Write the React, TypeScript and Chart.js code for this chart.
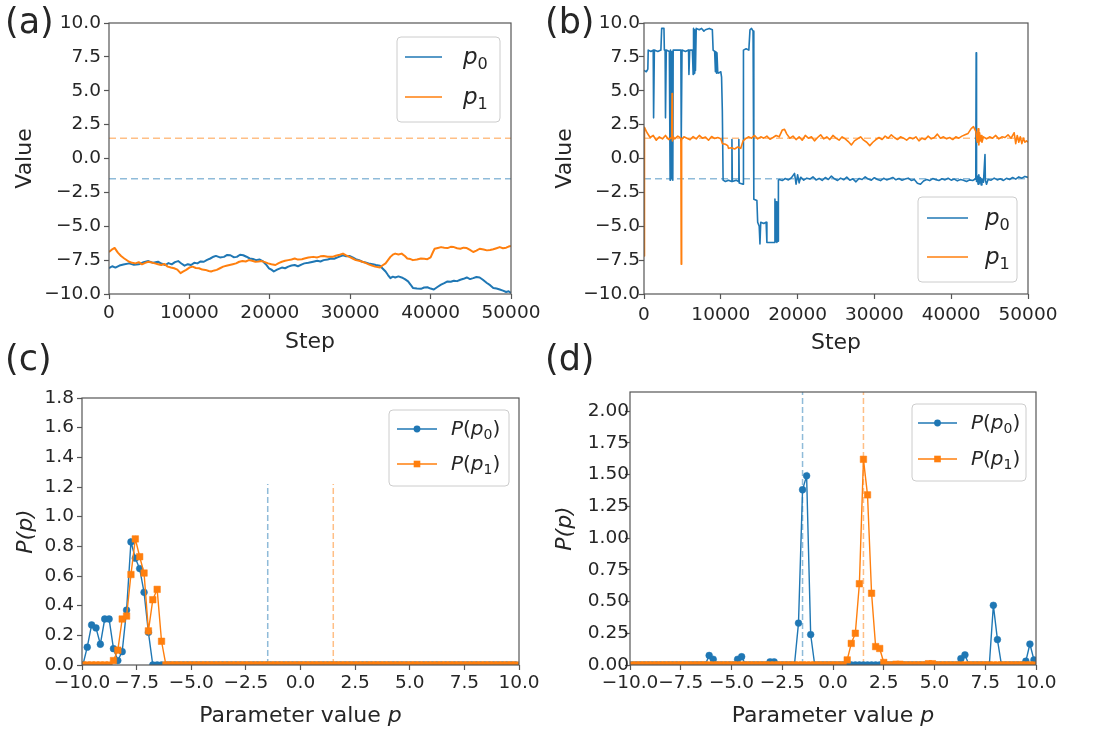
import React, { useEffect, useRef } from 'react';
import { Chart, registerables } from 'chart.js';

Chart.register(...registerables);

const FONT = '"DejaVu Sans", "Liberation Sans", Arial, sans-serif';
const BLUE = '#1f77b4';
const ORANGE = '#ff7f0e';
const BLUE_FAINT = 'rgba(31,119,180,0.5)';
const ORANGE_FAINT = 'rgba(255,127,14,0.5)';
const TEXT = '#262626';
const SPINE = '#555555';

// ---------- shared values ----------
const TRUE_P0 = -1.5;
const TRUE_P1 = 1.5;
const STEP_MIN = 0;
const STEP_MAX = 50000;
const STEP_TICKS = [0, 10000, 20000, 30000, 40000, 50000];
const VALUE_TICKS = [-10, -7.5, -5, -2.5, 0, 2.5, 5, 7.5, 10];
const PARAM_TICKS = [-10, -7.5, -5, -2.5, 0, 2.5, 5, 7.5, 10];
const C_DENSITY_TICKS = [0, 0.2, 0.4, 0.6, 0.8, 1.0, 1.2, 1.4, 1.6, 1.8];
const D_DENSITY_TICKS = [0, 0.25, 0.5, 0.75, 1.0, 1.25, 1.5, 1.75, 2.0];
const C_DENSITY_MAX = 1.8;
const D_DENSITY_MAX = 2.15;
const C_TRUE_LINE_TOP = 1.22;
const D_TRUE_LINE_TOP = 2.15;

// ---------- panel (a): trace, [step, value] ----------
const A_P0: [number, number][] = [
  [0, -8.1], [400, -7.95], [800, -8.05], [1300, -7.9], [1800, -7.82], [2500, -7.74], [3100, -7.85], [3700, -7.81],
  [4300, -7.65], [4900, -7.57], [5500, -7.7], [6100, -7.62], [6500, -7.75], [7000, -7.86], [7400, -7.72], [7800, -7.81],
  [8200, -7.65], [8600, -7.57], [9000, -7.75], [9400, -7.91], [9800, -7.8], [10200, -7.86], [10600, -7.7], [11000, -7.74],
  [11400, -7.6], [11800, -7.62], [12200, -7.48], [12600, -7.38], [13000, -7.25], [13300, -7.19], [13800, -7.3], [14300, -7.26],
  [14700, -7.12], [15100, -7.14], [15500, -7.28], [15900, -7.26], [16300, -7.1], [16700, -7.14], [17100, -7.25], [17500, -7.38],
  [17900, -7.42], [18300, -7.5], [18700, -7.45], [19100, -7.57], [19500, -7.8], [19900, -8.1], [20200, -8.2], [20500, -8.34],
  [20900, -8.2], [21500, -8.05], [21900, -8.1], [22300, -7.98], [22700, -7.9], [23100, -7.86], [23500, -7.95], [24000, -7.81],
  [24300, -7.74], [24800, -7.7], [25400, -7.62], [25900, -7.55], [26300, -7.6], [26700, -7.5], [27200, -7.45], [27600, -7.38],
  [28000, -7.4], [28500, -7.28], [29100, -7.14], [29500, -7.22], [29900, -7.19], [30300, -7.3], [30700, -7.43], [31100, -7.5],
  [31500, -7.62], [31900, -7.68], [32300, -7.74], [32800, -7.8], [33200, -7.86], [33700, -7.91], [34000, -8.1], [34400, -8.34],
  [34700, -8.6], [35000, -8.83], [35300, -8.72], [35600, -8.78], [36000, -8.7], [36400, -8.78], [36800, -8.9], [37200, -9.07],
  [37500, -9.3], [37800, -9.55], [38300, -9.6], [38800, -9.62], [39200, -9.52], [39600, -9.5], [40000, -9.6], [40400, -9.67],
  [40800, -9.5], [41300, -9.31], [41700, -9.2], [42100, -9.07], [42500, -9.1], [42900, -9.02], [43300, -9.05], [43700, -8.95],
  [44100, -8.88], [44500, -8.78], [44900, -8.9], [45300, -8.83], [45700, -8.75], [46100, -8.78], [46500, -8.95], [47000, -9.19],
  [47400, -9.35], [47800, -9.55], [48200, -9.6], [48600, -9.67], [49000, -9.75], [49400, -9.85], [49700, -9.8], [50000, -9.92],
];

const A_P1: [number, number][] = [
  [0, -6.9], [300, -6.75], [700, -6.6], [1100, -6.95], [1500, -7.2], [1900, -7.38], [2500, -7.62], [2900, -7.7],
  [3300, -7.74], [3700, -7.65], [4100, -7.81], [4500, -7.7], [4900, -7.62], [5300, -7.68], [5700, -7.74], [6100, -7.8],
  [6500, -7.86], [6900, -7.78], [7300, -7.98], [7700, -8.05], [8100, -8.1], [8500, -8.2], [8900, -8.46], [9200, -8.35],
  [9600, -8.22], [10000, -8.05], [10400, -7.98], [10800, -8.08], [11200, -8.1], [11600, -8.2], [12000, -8.22], [12400, -8.3],
  [12700, -8.34], [13100, -8.26], [13400, -8.22], [13800, -8.1], [14200, -7.98], [14600, -7.92], [15000, -7.86], [15400, -7.8],
  [15800, -7.74], [16200, -7.62], [16600, -7.57], [17000, -7.6], [17400, -7.5], [17800, -7.55], [18200, -7.62], [18600, -7.6],
  [19000, -7.57], [19400, -7.65], [19800, -7.74], [20200, -7.8], [20700, -7.86], [21100, -7.72], [21500, -7.62], [21900, -7.55],
  [22300, -7.5], [22700, -7.45], [23100, -7.38], [23500, -7.46], [24000, -7.43], [24300, -7.38], [24800, -7.3], [25400, -7.26],
  [25900, -7.3], [26300, -7.22], [26700, -7.19], [27200, -7.25], [27800, -7.26], [28200, -7.18], [28700, -7.1], [29100, -7.02],
  [29500, -7.15], [29900, -7.26], [30300, -7.38], [30700, -7.5], [31100, -7.55], [31500, -7.62], [31900, -7.7], [32300, -7.81],
  [32700, -7.9], [33100, -7.98], [33700, -8.05], [34000, -7.9], [34400, -7.74], [34700, -7.5], [35000, -7.26], [35300, -7.1],
  [35600, -7.02], [36000, -7.08], [36400, -7.02], [36800, -7.2], [37100, -7.38], [37500, -7.42], [37800, -7.5], [38300, -7.45],
  [38800, -7.38], [39200, -7.4], [39600, -7.43], [40000, -7.3], [40300, -6.9], [40500, -6.66], [40900, -6.6], [41300, -6.54],
  [41700, -6.58], [42100, -6.61], [42500, -6.52], [42900, -6.54], [43300, -6.62], [43700, -6.66], [44100, -6.58], [44500, -6.61],
  [44900, -6.75], [45300, -6.9], [45700, -6.8], [46100, -6.66], [46600, -6.72], [47000, -6.78], [47400, -6.75], [47800, -6.7],
  [48200, -6.62], [48600, -6.54], [49000, -6.62], [49400, -6.58], [49700, -6.5], [50000, -6.45],
];

// ---------- panel (b): trace, [step, value] ----------
const B_P0: [number, number][] = [
  [0, 6.5], [300, 6.4], [500, 6.6], [550, 8.0], [900, 7.9], [1200, 8.0], [1250, 3.0], [1350, 8.0], [1800, 7.9], [2200, 8.0],
  [2300, 9.6], [2600, 9.6], [2650, 8.0], [2750, 8.0], [2800, 3.0], [2900, 8.0], [3300, 7.9], [3400, -1.6], [3450, 8.0],
  [3550, -1.5], [3650, 7.9], [3750, -1.6], [3800, 8.0], [4300, 8.0], [4800, 8.0], [4850, 1.3], [4950, 8.0], [5400, 7.9],
  [5800, 8.0], [5850, 6.2], [5950, 8.0], [6300, 8.0], [6400, 6.2], [6450, 9.6], [6550, 6.3], [6600, 9.5], [6700, 6.5],
  [6800, 9.6], [7200, 9.5], [7500, 9.6], [7800, 9.4], [8000, 9.5], [8500, 9.6], [8900, 9.5], [9000, 8.0], [9200, 7.9],
  [9300, 6.4], [9350, 7.9], [9450, 6.3], [9500, 7.8], [9600, 6.4], [9700, 6.3], [10000, 6.4], [10100, 6.0], [10200, 3.5],
  [10300, -1.6], [10600, -1.7], [11000, -1.6], [11400, -1.7], [11450, 1.4], [11500, -1.7], [12000, -1.6], [12300, -1.7],
  [12350, 1.4], [12400, -1.8], [12900, -1.9], [12950, 8.0], [13300, 8.1], [13650, 8.0], [13800, 9.5], [14000, 9.6],
  [14200, 9.4], [14300, -3.0], [14700, -3.1], [14800, -4.7], [15000, -5.0], [15100, -6.3], [15200, -4.7], [15600, -4.8],
  [15900, -4.7], [16000, -6.2], [16500, -6.2], [17000, -6.2], [17050, -3.0], [17150, -6.1], [17200, -3.2], [17300, -6.2],
  [17400, -3.5], [17450, -6.1], [17500, -1.6],
  [17600, -1.55], [18000, -1.62], [18400, -1.48], [18800, -1.58], [19200, -1.42], [19600, -1.1], [19800, -1.9], [20000, -1.2],
  [20200, -1.8], [20400, -1.38], [20800, -1.6], [21200, -1.45], [21600, -1.52], [22000, -1.35], [22400, -1.58], [22800, -1.47],
  [23200, -1.62], [23600, -1.4], [24000, -1.55], [24400, -1.3], [24800, -1.5], [25200, -1.62], [25600, -1.45], [26000, -1.57],
  [26400, -1.38], [26800, -1.6], [27200, -1.5], [27600, -1.72], [28000, -1.48], [28400, -1.55], [28800, -1.36], [29200, -1.52],
  [29600, -1.6], [30000, -1.42], [30400, -1.55], [30800, -1.63], [31200, -1.46], [31600, -1.58], [32000, -1.5], [32400, -1.4],
  [32800, -1.57], [33200, -1.48], [33600, -1.6], [34000, -1.52], [34400, -1.45], [34800, -1.62], [35200, -1.55], [35600, -1.82],
  [36000, -1.9], [36400, -1.66], [36800, -1.55], [37200, -1.63], [37600, -1.48], [38000, -1.56], [38400, -1.62], [38800, -1.5],
  [39200, -1.58], [39600, -1.46], [40000, -1.6], [40400, -1.52], [40800, -1.65], [41200, -1.55], [41600, -1.6], [42000, -1.7],
  [42400, -1.58], [42800, -1.62], [43200, -1.5], [43250, 7.8], [43300, -1.7], [43400, -1.3], [43500, -1.9], [43600, -1.2],
  [43700, -1.8], [43800, -1.4], [43900, -1.95], [44000, -1.5], [44200, -1.75], [44400, 0.3], [44450, -1.6], [44600, -1.9],
  [44800, -1.55], [45200, -1.6], [45600, -1.45], [46000, -1.58], [46400, -1.5], [46800, -1.62], [47200, -1.46], [47600, -1.55],
  [48000, -1.4], [48400, -1.52], [48800, -1.36], [49200, -1.45], [49600, -1.32], [50000, -1.4],
];

const B_P1: [number, number][] = [
  [0, -7.2], [60, 2.3], [400, 1.9], [800, 1.55], [1200, 1.7], [1600, 1.35], [2000, 1.6], [2400, 1.45], [2800, 1.7],
  [3200, 1.4], [3600, 1.55], [3650, 4.8], [3700, 1.3], [3800, 1.6], [4000, 1.45], [4400, 1.65], [4800, 1.5], [4850, -7.8],
  [4900, 1.4], [5200, 1.6], [5600, 1.5], [6000, 1.38], [6400, 1.62], [6800, 1.45], [7200, 1.7], [7600, 1.5], [8000, 1.58],
  [8400, 1.35], [8800, 1.62], [9200, 1.48], [9600, 1.55], [10000, 1.45], [10200, 1.1], [10600, 1.05], [10900, 0.95],
  [11000, 0.75], [11400, 0.8], [11800, 0.7], [12200, 0.85], [12600, 0.75], [12900, 1.3], [13200, 1.45], [13600, 1.6],
  [14000, 1.5], [14400, 1.7], [14800, 1.45], [15200, 1.6], [15600, 1.5], [16000, 1.65], [16400, 1.42], [16800, 1.55],
  [17200, 1.7], [17600, 1.6], [18000, 2.1], [18300, 2.15], [18600, 1.8], [19000, 1.5], [19400, 1.65], [19800, 1.4],
  [20200, 1.6], [20600, 1.35], [21000, 1.7], [21400, 1.5], [21800, 1.6], [22200, 1.3], [22600, 1.55], [23000, 1.75],
  [23400, 1.45], [23800, 1.6], [24200, 1.4], [24600, 1.7], [25000, 1.5], [25400, 1.35], [25800, 1.6], [26200, 1.45],
  [26600, 1.25], [27000, 1.0], [27400, 1.3], [27800, 1.45], [28200, 1.6], [28600, 1.35], [29000, 1.2], [29400, 0.95],
  [29800, 1.2], [30200, 1.4], [30600, 1.55], [31000, 1.4], [31400, 1.65], [31800, 1.5], [32200, 1.75], [32600, 1.55],
  [33000, 1.4], [33400, 1.6], [33800, 1.5], [34200, 1.35], [34600, 1.55], [35000, 1.45], [35400, 1.6], [35800, 1.3],
  [36200, 1.5], [36600, 1.4], [37000, 1.65], [37400, 1.45], [37800, 1.55], [38200, 1.8], [38600, 1.5], [39000, 1.6],
  [39400, 1.45], [39800, 1.55], [40200, 1.4], [40600, 1.6], [41000, 1.5], [41400, 1.65], [41800, 1.75], [42200, 1.85],
  [42600, 2.2], [42900, 2.35], [43200, 2.0], [43400, 1.2], [43500, 2.2], [43600, 1.0], [43700, 1.9], [43800, 1.3],
  [43900, 1.7], [44000, 1.2], [44200, 1.6], [44600, 1.45], [45000, 1.6], [45400, 1.5], [45800, 1.7], [46200, 1.45],
  [46600, 1.6], [47000, 1.55], [47400, 1.75], [47800, 1.5], [48200, 1.9], [48400, 1.1], [48600, 1.7], [48800, 1.2],
  [49000, 1.6], [49200, 1.1], [49400, 1.5], [49600, 1.2], [49800, 1.3], [50000, 1.2],
];

// ---------- panels (c), (d): histogram densities, [bin centre, density] (all other bins are 0) ----------
const BIN_COUNT = 100;
const BIN_WIDTH = 0.2;
const C_FIRST_BIN = -9.96;
const D_FIRST_BIN = -9.9;

const C_P0: [number, number][] = [
  [-9.76, 0.12], [-9.56, 0.27], [-9.36, 0.25], [-9.16, 0.14], [-8.96, 0.31], [-8.76, 0.31], [-8.56, 0.11], [-8.36, 0.03],
  [-8.16, 0.09], [-7.96, 0.37], [-7.76, 0.83], [-7.56, 0.72], [-7.36, 0.65], [-7.16, 0.49], [-6.96, 0.22],
];
const C_P1: [number, number][] = [
  [-8.56, 0.03], [-8.36, 0.1], [-8.16, 0.31], [-7.96, 0.33], [-7.76, 0.61], [-7.56, 0.85], [-7.36, 0.73], [-7.16, 0.62],
  [-6.96, 0.23], [-6.76, 0.44], [-6.56, 0.51], [-6.36, 0.16],
];
const D_P0: [number, number][] = [
  [-6.1, 0.075], [-5.9, 0.045], [-4.7, 0.045], [-4.5, 0.065], [-3.1, 0.025], [-2.9, 0.025], [-1.7, 0.33], [-1.5, 1.38],
  [-1.3, 1.49], [-1.1, 0.24], [6.3, 0.05], [6.5, 0.08], [7.9, 0.47], [8.1, 0.2], [9.5, 0.03], [9.7, 0.165], [9.9, 0.04],
];
const D_P1: [number, number][] = [
  [0.7, 0.04], [0.9, 0.17], [1.1, 0.25], [1.3, 0.64], [1.5, 1.62], [1.7, 1.34], [1.9, 0.565], [2.1, 0.145], [2.3, 0.13],
  [2.5, 0.02], [3.1, 0.006], [3.3, 0.006], [4.7, 0.01], [4.9, 0.01],
];

// ---------- helpers ----------
type Run = { t: string; it?: boolean; sub?: boolean };
type LegendItem = { color: string; marker?: 'circle' | 'rect'; runs: Run[] };
type LegendSpec = {
  box: [number, number, number, number];
  lineX: [number, number];
  textX: number;
  rows: number[];
  size: number;
  items: LegendItem[];
};

const P0_RUNS: Run[] = [{ t: 'p', it: true }, { t: '0', sub: true }];
const P1_RUNS: Run[] = [{ t: 'p', it: true }, { t: '1', sub: true }];
const PP0_RUNS: Run[] = [{ t: 'P', it: true }, { t: '(' }, { t: 'p', it: true }, { t: '0', sub: true }, { t: ')' }];
const PP1_RUNS: Run[] = [{ t: 'P', it: true }, { t: '(' }, { t: 'p', it: true }, { t: '1', sub: true }, { t: ')' }];
const PARAM_TITLE_RUNS: Run[] = [{ t: 'Parameter value ' }, { t: 'p', it: true }];

const fmtFixed = (d: number) => (v: any) => Number(v).toFixed(d).replace('-', '\u2212');
const fmtInt = (v: any) => String(Math.round(Number(v)));

function toPts(arr: [number, number][]) {
  return arr.map(([x, y]) => ({ x, y }));
}

function histPoints(first: number, nonzero: [number, number][]) {
  const pts: { x: number; y: number }[] = [];
  for (let k = 0; k < BIN_COUNT; k++) {
    const x = Math.round((first + k * BIN_WIDTH) * 100) / 100;
    const hit = nonzero.find(([nx]) => Math.abs(nx - x) < 0.05);
    pts.push({ x, y: hit ? hit[1] : 0 });
  }
  return pts;
}

function drawRuns(ctx: CanvasRenderingContext2D, runs: Run[], x: number, baseline: number, size: number, align: 'left' | 'center') {
  const parts = runs.map((r) => {
    const fs = r.sub ? size * 0.7 : size;
    const font = `${r.it ? 'italic ' : ''}${fs}px ${FONT}`;
    ctx.font = font;
    return { r, font, w: ctx.measureText(r.t).width };
  });
  const total = parts.reduce((s, p) => s + p.w, 0);
  let cx = align === 'center' ? x - total / 2 : x;
  ctx.textBaseline = 'alphabetic';
  ctx.textAlign = 'left';
  for (const p of parts) {
    ctx.font = p.font;
    ctx.fillText(p.r.t, cx, p.r.sub ? baseline + size * 0.2 : baseline);
    cx += p.w;
  }
}

function drawLegend(ctx: CanvasRenderingContext2D, spec: LegendSpec) {
  const [x0, y0, x1, y1] = spec.box;
  const r = 4;
  ctx.save();
  ctx.beginPath();
  ctx.moveTo(x0 + r, y0);
  ctx.lineTo(x1 - r, y0);
  ctx.quadraticCurveTo(x1, y0, x1, y0 + r);
  ctx.lineTo(x1, y1 - r);
  ctx.quadraticCurveTo(x1, y1, x1 - r, y1);
  ctx.lineTo(x0 + r, y1);
  ctx.quadraticCurveTo(x0, y1, x0, y1 - r);
  ctx.lineTo(x0, y0 + r);
  ctx.quadraticCurveTo(x0, y0, x0 + r, y0);
  ctx.closePath();
  ctx.fillStyle = 'rgba(255,255,255,0.8)';
  ctx.fill();
  ctx.strokeStyle = '#cccccc';
  ctx.lineWidth = 1;
  ctx.stroke();
  spec.items.forEach((it, i) => {
    const y = spec.rows[i];
    ctx.strokeStyle = it.color;
    ctx.lineWidth = 1.7;
    ctx.setLineDash([]);
    ctx.beginPath();
    ctx.moveTo(spec.lineX[0], y);
    ctx.lineTo(spec.lineX[1], y);
    ctx.stroke();
    const mx = (spec.lineX[0] + spec.lineX[1]) / 2;
    ctx.fillStyle = it.color;
    if (it.marker === 'circle') {
      ctx.beginPath();
      ctx.arc(mx, y, 3.4, 0, Math.PI * 2);
      ctx.fill();
    } else if (it.marker === 'rect') {
      ctx.fillRect(mx - 3.3, y - 3.3, 6.6, 6.6);
    }
    ctx.fillStyle = TEXT;
    drawRuns(ctx, it.runs, spec.textX, y + spec.size * 0.3, spec.size, 'left');
  });
  ctx.restore();
}

function overlayPlugin(legend: LegendSpec, xTitle?: { runs: Run[]; baseline: number; size: number }) {
  return {
    id: 'overlay',
    afterDatasetsDraw(chart: any) {
      const { ctx, chartArea: a } = chart;
      ctx.save();
      ctx.strokeStyle = SPINE;
      ctx.lineWidth = 1.2;
      ctx.setLineDash([]);
      ctx.strokeRect(a.left, a.top, a.right - a.left, a.bottom - a.top);
      ctx.restore();
    },
    afterDraw(chart: any) {
      const { ctx, chartArea: a } = chart;
      drawLegend(ctx, legend);
      if (xTitle) {
        ctx.save();
        ctx.fillStyle = TEXT;
        drawRuns(ctx, xTitle.runs, (a.left + a.right) / 2, xTitle.baseline, xTitle.size, 'center');
        ctx.restore();
      }
    },
  };
}

const TICK_FONT = { family: FONT, size: 18.5 };
const TITLE_FONT = { family: FONT, size: 22 };

function xAxis(min: number, max: number, ticks: number[], fmt: (v: any) => string, height: number, pad: number, title?: string) {
  return {
    type: 'linear',
    position: 'bottom',
    min,
    max,
    afterBuildTicks: (s: any) => {
      s.ticks = ticks.map((value) => ({ value }));
    },
    afterFit: (s: any) => {
      s.height = height;
    },
    ticks: { autoSkip: false, maxRotation: 0, minRotation: 0, padding: pad, color: TEXT, font: TICK_FONT, callback: fmt },
    grid: { display: true, drawOnChartArea: false, drawTicks: true, tickLength: 5, tickColor: SPINE, tickWidth: 1.2 },
    border: { display: false },
    title: title
      ? { display: true, text: title, color: TEXT, font: TITLE_FONT, padding: 0 }
      : { display: false },
  };
}

function yAxis(min: number, max: number, ticks: number[], fmt: (v: any) => string, width: number, pad: number, title: string, italic: boolean) {
  return {
    type: 'linear',
    position: 'left',
    min,
    max,
    afterBuildTicks: (s: any) => {
      s.ticks = ticks.map((value) => ({ value }));
    },
    afterFit: (s: any) => {
      s.width = width;
    },
    ticks: { autoSkip: false, padding: pad, color: TEXT, font: TICK_FONT, callback: fmt },
    grid: { display: true, drawOnChartArea: false, drawTicks: true, tickLength: 5, tickColor: SPINE, tickWidth: 1.2 },
    border: { display: false },
    title: {
      display: true,
      text: title,
      color: TEXT,
      font: italic ? { ...TITLE_FONT, style: 'italic' } : TITLE_FONT,
      padding: 0,
    },
  };
}

function traceDs(points: [number, number][], color: string, width: number, order: number) {
  return {
    data: toPts(points),
    borderColor: color,
    backgroundColor: color,
    borderWidth: width,
    pointRadius: 0,
    pointHoverRadius: 0,
    tension: 0,
    fill: false,
    clip: 0,
    order,
    borderJoinStyle: 'round',
  };
}

function dashedDs(points: { x: number; y: number }[], color: string, dash: number[], order: number) {
  return {
    data: points,
    borderColor: color,
    borderWidth: 1.5,
    borderDash: dash,
    pointRadius: 0,
    pointHoverRadius: 0,
    fill: false,
    clip: 0,
    order,
  };
}

function histDs(points: { x: number; y: number }[], color: string, style: 'circle' | 'rect', radius: number, order: number) {
  return {
    data: points,
    borderColor: color,
    backgroundColor: color,
    borderWidth: 1.4,
    pointStyle: style,
    pointRadius: radius,
    pointHoverRadius: radius,
    pointBackgroundColor: color,
    pointBorderColor: color,
    pointBorderWidth: 0.5,
    tension: 0,
    fill: false,
    clip: 0,
    order,
  };
}

function baseOptions(padding: any, x: any, y: any) {
  return {
    responsive: false,
    maintainAspectRatio: false,
    animation: false,
    devicePixelRatio: 1,
    events: [],
    layout: { padding },
    plugins: { legend: { display: false }, tooltip: { enabled: false }, title: { display: false } },
    scales: { x, y },
  };
}

// ---------- chart configs ----------
function configA() {
  return {
    type: 'line',
    data: {
      datasets: [
        traceDs(A_P1, ORANGE, 2, 0),
        traceDs(A_P0, BLUE, 2, 1),
        dashedDs([{ x: STEP_MIN, y: TRUE_P1 }, { x: STEP_MAX, y: TRUE_P1 }], ORANGE_FAINT, [7, 4], 2),
        dashedDs([{ x: STEP_MIN, y: TRUE_P0 }, { x: STEP_MAX, y: TRUE_P0 }], BLUE_FAINT, [7, 4], 3),
      ],
    },
    options: baseOptions(
      { left: 12, top: 23, right: 49, bottom: 5 },
      xAxis(STEP_MIN, STEP_MAX, STEP_TICKS, fmtInt, 61, 3, 'Step'),
      yAxis(-10, 10, VALUE_TICKS, fmtFixed(1), 97, 3, 'Value', false),
    ),
    plugins: [
      overlayPlugin({
        box: [397, 37, 500, 122], lineX: [405, 442], textX: 463, rows: [57, 97], size: 23,
        items: [{ color: BLUE, runs: P0_RUNS }, { color: ORANGE, runs: P1_RUNS }],
      }),
    ],
  };
}

function configB() {
  return {
    type: 'line',
    data: {
      datasets: [
        traceDs(B_P1, ORANGE, 1.6, 0),
        traceDs(B_P0, BLUE, 1.6, 1),
        dashedDs([{ x: STEP_MIN, y: TRUE_P1 }, { x: STEP_MAX, y: TRUE_P1 }], ORANGE_FAINT, [7, 4], 2),
        dashedDs([{ x: STEP_MIN, y: TRUE_P0 }, { x: STEP_MAX, y: TRUE_P0 }], BLUE_FAINT, [7, 4], 3),
      ],
    },
    options: baseOptions(
      { left: 12, top: 23, right: 76, bottom: 4 },
      xAxis(STEP_MIN, STEP_MAX, STEP_TICKS, fmtInt, 62, 5, 'Step'),
      yAxis(-10, 10, VALUE_TICKS, fmtFixed(1), 92, -1, 'Value', false),
    ),
    plugins: [
      overlayPlugin({
        box: [378, 197, 477, 282], lineX: [387, 428], textX: 445, rows: [218, 257], size: 23,
        items: [{ color: BLUE, runs: P0_RUNS }, { color: ORANGE, runs: P1_RUNS }],
      }),
    ],
  };
}

function configC() {
  return {
    type: 'line',
    data: {
      datasets: [
        histDs(histPoints(C_FIRST_BIN, C_P1), ORANGE, 'rect', 4.6, 0),
        histDs(histPoints(C_FIRST_BIN, C_P0), BLUE, 'circle', 3.4, 1),
        dashedDs([{ x: TRUE_P0, y: 0 }, { x: TRUE_P0, y: C_TRUE_LINE_TOP }], BLUE_FAINT, [6, 3], 2),
        dashedDs([{ x: TRUE_P1, y: 0 }, { x: TRUE_P1, y: C_TRUE_LINE_TOP }], ORANGE_FAINT, [6, 3], 3),
      ],
    },
    options: baseOptions(
      { left: 13, top: 38, right: 41, bottom: 0 },
      xAxis(-10, 10, PARAM_TICKS, fmtFixed(1), 66, 2),
      yAxis(0, C_DENSITY_MAX, C_DENSITY_TICKS, fmtFixed(1), 69, 3, 'P(p)', true),
    ),
    plugins: [
      overlayPlugin(
        {
          box: [389, 50, 509, 126], lineX: [397, 437], textX: 451, rows: [69, 104], size: 20,
          items: [{ color: BLUE, marker: 'circle', runs: PP0_RUNS }, { color: ORANGE, marker: 'rect', runs: PP1_RUNS }],
        },
        { runs: PARAM_TITLE_RUNS, baseline: 362, size: 22 },
      ),
    ],
  };
}

function configD() {
  return {
    type: 'line',
    data: {
      datasets: [
        histDs(histPoints(D_FIRST_BIN, D_P1), ORANGE, 'rect', 4.6, 0),
        histDs(histPoints(D_FIRST_BIN, D_P0), BLUE, 'circle', 3.4, 1),
        dashedDs([{ x: TRUE_P0, y: 0 }, { x: TRUE_P0, y: D_TRUE_LINE_TOP }], BLUE_FAINT, [6, 3], 2),
        dashedDs([{ x: TRUE_P1, y: 0 }, { x: TRUE_P1, y: D_TRUE_LINE_TOP }], ORANGE_FAINT, [6, 3], 3),
      ],
    },
    options: baseOptions(
      { left: 12, top: 32, right: 68, bottom: 0 },
      xAxis(-10, 10, PARAM_TICKS, fmtFixed(1), 66, 2),
      yAxis(0, D_DENSITY_MAX, D_DENSITY_TICKS, fmtFixed(2), 78, -4, 'P(p)', true),
    ),
    plugins: [
      overlayPlugin(
        {
          box: [372, 44, 486, 121], lineX: [378, 417], textX: 431, rows: [63, 99], size: 20,
          items: [{ color: BLUE, marker: 'circle', runs: PP0_RUNS }, { color: ORANGE, marker: 'rect', runs: PP1_RUNS }],
        },
        { runs: PARAM_TITLE_RUNS, baseline: 362, size: 22 },
      ),
    ],
  };
}

type Box = { left: number; top: number; width: number; height: number };

function ChartPanel({ box, config }: { box: Box; config: () => any }) {
  const ref = useRef<HTMLCanvasElement>(null);
  useEffect(() => {
    const chart = new Chart(ref.current as HTMLCanvasElement, config() as any);
    return () => chart.destroy();
  }, []);
  return (
    <div style={{ position: 'absolute', left: box.left, top: box.top, width: box.width, height: box.height }}>
      <canvas ref={ref} width={box.width} height={box.height} style={{ width: box.width, height: box.height, display: 'block' }} />
    </div>
  );
}

function PanelLetter({ text, left, top }: { text: string; left: number; top: number }) {
  return (
    <div
      style={{
        position: 'absolute',
        left,
        top,
        fontFamily: FONT,
        fontSize: 35,
        lineHeight: '35px',
        color: TEXT,
        whiteSpace: 'nowrap',
      }}
    >
      {text}
    </div>
  );
}

export default function App() {
  return (
    <div style={{ position: 'absolute', left: 0, top: 0, width: 1104, height: 731, background: '#ffffff', overflow: 'hidden' }}>
      <ChartPanel box={{ left: 0, top: 0, width: 560, height: 360 }} config={configA} />
      <ChartPanel box={{ left: 540, top: 0, width: 564, height: 360 }} config={configB} />
      <ChartPanel box={{ left: 0, top: 360, width: 560, height: 371 }} config={configC} />
      <ChartPanel box={{ left: 540, top: 360, width: 564, height: 371 }} config={configD} />
      <PanelLetter text="(a)" left={5} top={4} />
      <PanelLetter text="(b)" left={545} top={4} />
      <PanelLetter text="(c)" left={5} top={341} />
      <PanelLetter text="(d)" left={545} top={341} />
    </div>
  );
}
